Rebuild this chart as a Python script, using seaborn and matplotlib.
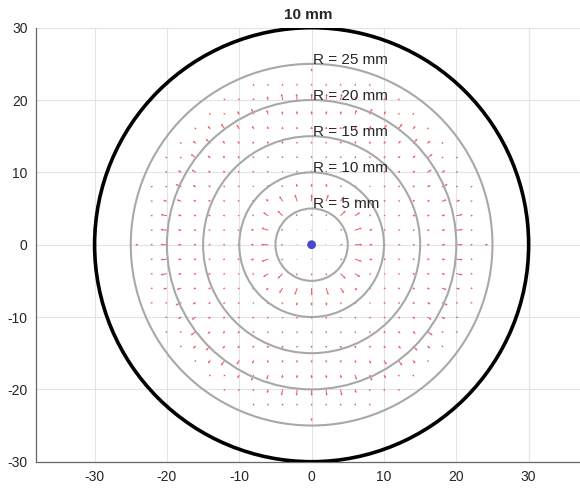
import numpy as np
import pandas as pd
import seaborn as sns
import matplotlib
matplotlib.use('Agg')
import matplotlib.pyplot as plt
from matplotlib.patches import Circle

# Datos
title = '10 mm'
ring_radii = [5, 10, 15, 20, 25]
ring_labels = ['R = 5 mm', 'R = 10 mm', 'R = 15 mm', 'R = 20 mm', 'R = 25 mm']
outer_radius = 30
grid_vals = [-24, -22, -20, -18, -16, -14, -12, -10, -8, -6, -4, -2, 0,
             2, 4, 6, 8, 10, 12, 14, 16, 18, 20, 22, 24]
field_radius = 24
# longitud de flecha (mm) segun el radio redondeado 0..24
ring_mag = [0.0, 0.0, 0.12, 0.15, 0.3, 0.65, 1.0, 0.85, 0.45, 0.3, 0.3, 0.25, 0.3,
            0.3, 0.3, 0.35, 0.35, 0.4, 0.5, 0.7, 0.9, 0.55, 0.3, 0.3, 0.4]
xticks = [-30, -20, -10, 0, 10, 20, 30]
yticks = [-30, -20, -10, 0, 10, 20, 30]

# Campo radial en la rejilla
X, Y = np.meshgrid(grid_vals, grid_vals)
R = np.hypot(X, Y)
inside = (R <= field_radius) & (R > 0)
df = pd.DataFrame({'x': X[inside], 'y': Y[inside], 'r': R[inside]})
df['m'] = [ring_mag[int(round(r))] for r in df['r']]
df['u'] = df['m'] * df['x'] / df['r']
df['v'] = df['m'] * df['y'] / df['r']

sns.set_style('white')
plt.rcParams['font.family'] = ['Liberation Sans', 'DejaVu Sans']
plt.rcParams['axes.unicode_minus'] = False

fig = plt.figure(figsize=(5.8, 4.91), dpi=100)
ax = fig.add_axes([36 / 580, 29.3 / 491, 544 / 580, 434 / 491])

ax.grid(True, color='#e3e3e3', linewidth=0.8)
ax.set_axisbelow(True)

ax.quiver(df['x'], df['y'], df['u'], df['v'], angles='xy', scale_units='xy', scale=1,
          color='#ec5a5c', width=0.0018, headwidth=2.5, headlength=2.5,
          headaxislength=2.2, zorder=2)

for r, lab in zip(ring_radii, ring_labels):
    ax.add_patch(Circle((0, 0), r, fill=False, edgecolor='#a8a8a8', linewidth=1.5, zorder=3))
    ax.text(0.2, r + 0.05, lab, fontsize=11, color='#262626', ha='left', va='baseline', zorder=4)
ax.add_patch(Circle((0, 0), outer_radius, fill=False, edgecolor='black', linewidth=2.6, zorder=3))

sns.scatterplot(x=[0], y=[0], color='#4a4ac8', s=40, edgecolor='none', ax=ax, zorder=5)

ax.set_xlim(-38.1, 37.1)
ax.set_ylim(-30, 30)
ax.set_xticks(xticks)
ax.set_yticks(yticks)
ax.tick_params(direction='in', length=5, width=0.8, colors='#666666',
               labelcolor='#262626', labelsize=10, pad=6)
for s in ['top', 'right']:
    ax.spines[s].set_visible(False)
for s in ['left', 'bottom']:
    ax.spines[s].set_color('#666666')
    ax.spines[s].set_linewidth(0.9)
ax.set_title(title, fontsize=11, fontweight='bold', pad=6)

fig.savefig('out.png', dpi=100)
